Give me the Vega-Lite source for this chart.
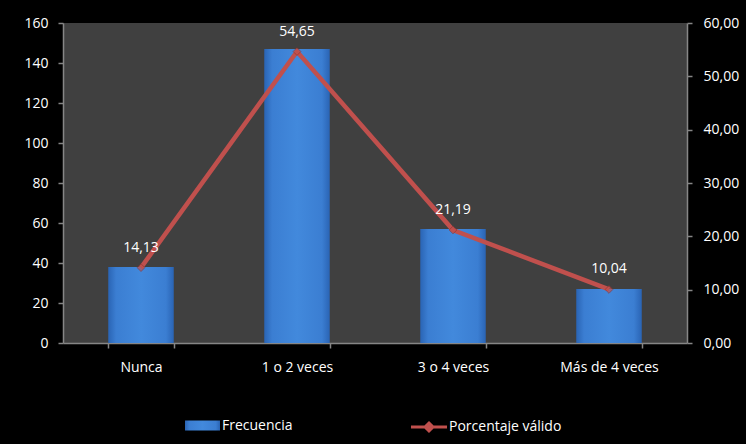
{
  "$schema": "https://vega.github.io/schema/vega-lite/v6.json",
  "autosize": "none",
  "width": 624,
  "height": 320,
  "padding": {"left": 63, "top": 23, "right": 59, "bottom": 101},
  "background": "#000000",
  "config": {
    "locale": {"number": {"decimal": ",", "thousands": ".", "grouping": [3], "currency": ["", " €"]}},
    "view": {"fill": "#404040", "stroke": null},
    "font": "Open Sans",
    "axis": {"labelFont": "Open Sans", "labelFontSize": 14, "labelColor": "#ffffff", "domainColor": "#868686", "tickColor": "#868686", "domainWidth": 1.5, "tickWidth": 1.5, "grid": false, "title": null},
    "legend": {"labelFont": "Open Sans", "labelFontSize": 14, "labelColor": "#ffffff"}
  },
  "data": {
    "values": [
      {"categoria": "Nunca", "frecuencia": 38, "porcentaje": 14.13},
      {"categoria": "1 o 2 veces", "frecuencia": 147, "porcentaje": 54.65},
      {"categoria": "3 o 4 veces", "frecuencia": 57, "porcentaje": 21.19},
      {"categoria": "Más de 4 veces", "frecuencia": 27, "porcentaje": 10.04}
    ]
  },
  "encoding": {
    "x": {
      "field": "categoria",
      "type": "nominal",
      "sort": null,
      "scale": {"paddingInner": 0.58, "paddingOuter": 0.29},
      "axis": {"labelAngle": 0, "tickBand": "extent", "tickSize": 5, "labelPadding": 12}
    }
  },
  "layer": [
    {
      "mark": {
        "type": "bar",
        "fill": {"gradient": "linear", "x1": 0, "y1": 0, "x2": 1, "y2": 0, "stops": [
          {"offset": 0, "color": "#2a64b4"},
          {"offset": 0.12, "color": "#3b7ed2"},
          {"offset": 0.5, "color": "#4289dc"},
          {"offset": 0.88, "color": "#3b7ed2"},
          {"offset": 1, "color": "#2a64b4"}
        ]}
      },
      "encoding": {
        "y": {
          "field": "frecuencia",
          "type": "quantitative",
          "scale": {"domain": [0, 160]},
          "axis": {"values": [0, 20, 40, 60, 80, 100, 120, 140, 160], "tickSize": 5, "labelPadding": 10, "orient": "left"}
        },
        "opacity": {
          "datum": "Frecuencia",
          "type": "nominal",
          "scale": {"range": [1]},
          "legend": {
            "title": null,
            "orient": "none",
            "legendX": 122,
            "legendY": 385,
            "symbolType": "M-1,-0.28H1V0.28H-1Z",
            "symbolSize": 1225,
            "symbolStrokeWidth": 0,
            "labelOffset": 2,
            "encode": {"symbols": {"update": {"fill": {"value": {"gradient": "linear", "x1": 0, "y1": 0, "x2": 0, "y2": 1, "stops": [
              {"offset": 0, "color": "#6aa6ee"},
              {"offset": 0.5, "color": "#3b7ed2"},
              {"offset": 1, "color": "#2a5ea8"}
            ]}}, "opacity": {"value": 1}}}}
          }
        }
      }
    },
    {
      "encoding": {
        "y": {
          "field": "porcentaje",
          "type": "quantitative",
          "scale": {"domain": [0, 60]},
          "axis": {"orient": "right", "values": [0, 10, 20, 30, 40, 50, 60], "format": ".2f", "tickSize": 5, "labelPadding": 11}
        }
      },
      "layer": [
        {
          "mark": {"type": "line", "strokeWidth": 4.5},
          "encoding": {
            "stroke": {
              "datum": "Porcentaje válido",
              "type": "nominal",
              "scale": {"range": ["#c0504d"]},
              "legend": {
                "title": null,
                "orient": "none",
                "legendX": 346,
                "legendY": 384,
                "symbolType": "M-1,0H1M0,-0.22L0.22,0L0,0.22L-0.22,0Z",
                "symbolSize": 1300,
                "symbolStrokeWidth": 3,
                "labelOffset": 0,
                "encode": {"symbols": {"update": {"fill": {"value": "#c0504d"}}}}
              }
            }
          }
        },
        {
          "mark": {"type": "point", "shape": "diamond", "filled": true, "size": 60, "color": "#c0504d", "stroke": "#8c2f2c", "strokeWidth": 0.8}
        },
        {
          "mark": {"type": "text", "color": "#ffffff", "fontSize": 14, "baseline": "alphabetic", "dy": -16, "font": "Open Sans"},
          "encoding": {
            "text": {"field": "porcentaje", "type": "quantitative", "format": ".2f"}
          }
        }
      ]
    }
  ],
  "resolve": {"scale": {"y": "independent"}}
}
